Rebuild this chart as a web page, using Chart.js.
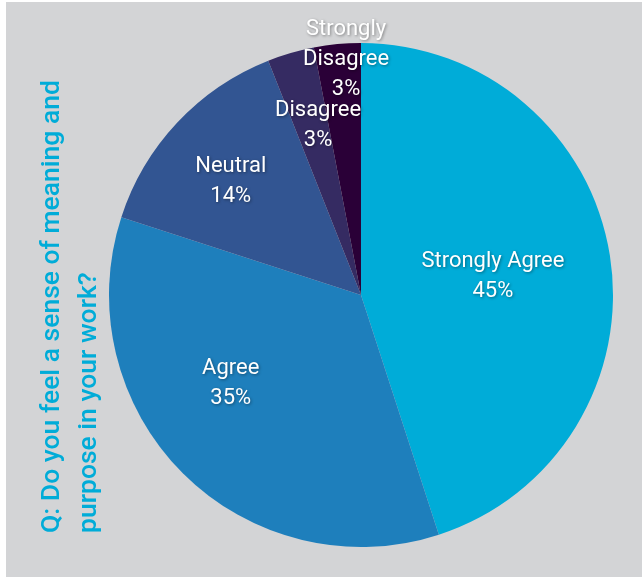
<!DOCTYPE html>
<html lang="en">
<head>
<meta charset="UTF-8">
<title>Meaning and purpose</title>
<script src="https://cdn.jsdelivr.net/npm/chart.js"></script>
<style>
  html, body { margin: 0; padding: 0; background: #fff; }
  #bg { position: absolute; left: 6px; top: 2px; width: 636px; height: 575px; background: #d3d4d6; }
  #wrap { position: absolute; left: 0; top: 0; width: 642px; height: 577px; }
</style>
</head>
<body>
<div id="bg"></div>
<div id="wrap"><canvas id="pie" width="642" height="577"></canvas></div>

<script>
// data
const categories = ['Strongly Agree', 'Agree', 'Neutral', 'Disagree', ['Strongly', 'Disagree']];
const shares = [45, 35, 14, 3, 3];
const sliceColors = ['#00acd8', '#1e7fbc', '#325592', '#352b62', '#2a0037'];
const question = ['Q: Do you feel a sense of meaning and', 'purpose in your work?'];

// where each label sits: extra angle (deg) from slice middle, and fraction of radius
const labelSpots = [[0, 0.53], [11.5, 0.62], [-1.7, 0.69], [2.1, 0.70], [1.8, 0.945]];

const sliceLabels = {
  id: 'sliceLabels',
  afterDatasetsDraw(chart) {
    const ctx = chart.ctx;
    const arcs = chart.getDatasetMeta(0).data;
    ctx.save();
    ctx.font = '22px Roboto';
    ctx.fillStyle = '#ffffff';
    ctx.textAlign = 'center';
    ctx.textBaseline = 'middle';
    ctx.shadowColor = 'rgba(0,0,0,0.4)';
    ctx.shadowBlur = 3;
    ctx.shadowOffsetX = 1;
    ctx.shadowOffsetY = 1;
    arcs.forEach((arc, i) => {
      const p = arc.getProps(['x', 'y', 'startAngle', 'endAngle', 'outerRadius'], true);
      const mid = (p.startAngle + p.endAngle) / 2 + labelSpots[i][0] * Math.PI / 180;
      const r = p.outerRadius * labelSpots[i][1];
      const cx = p.x + Math.cos(mid) * r;
      const cy = p.y + Math.sin(mid) * r + 2;
      const name = chart.data.labels[i];
      const lines = [].concat(name, shares[i] + '%');
      const lh = 30;
      const top = cy - (lines.length - 1) * lh / 2;
      lines.forEach((t, k) => ctx.fillText(t, cx, top + k * lh));
    });
    ctx.restore();
  }
};

const sideTitle = {
  id: 'sideTitle',
  afterDraw(chart) {
    const ctx = chart.ctx;
    ctx.save();
    ctx.font = '500 26.5px Roboto';
    ctx.fillStyle = '#00acd8';
    ctx.textAlign = 'left';
    ctx.textBaseline = 'alphabetic';
    [59, 96].forEach((x, k) => {
      ctx.save();
      ctx.translate(x, 533);
      ctx.rotate(-Math.PI / 2);
      ctx.fillText(question[k], 0, 0);
      ctx.restore();
    });
    ctx.restore();
  }
};

new Chart(document.getElementById('pie'), {
  type: 'pie',
  data: {
    labels: categories,
    datasets: [{ data: shares, backgroundColor: sliceColors, borderWidth: 0 }]
  },
  options: {
    responsive: false,
    animation: false,
    layout: { padding: { left: 109, top: 43, right: 29, bottom: 30 } },
    plugins: { legend: { display: false }, tooltip: { enabled: false } }
  },
  plugins: [sliceLabels, sideTitle]
});
</script>
</body>
</html>
